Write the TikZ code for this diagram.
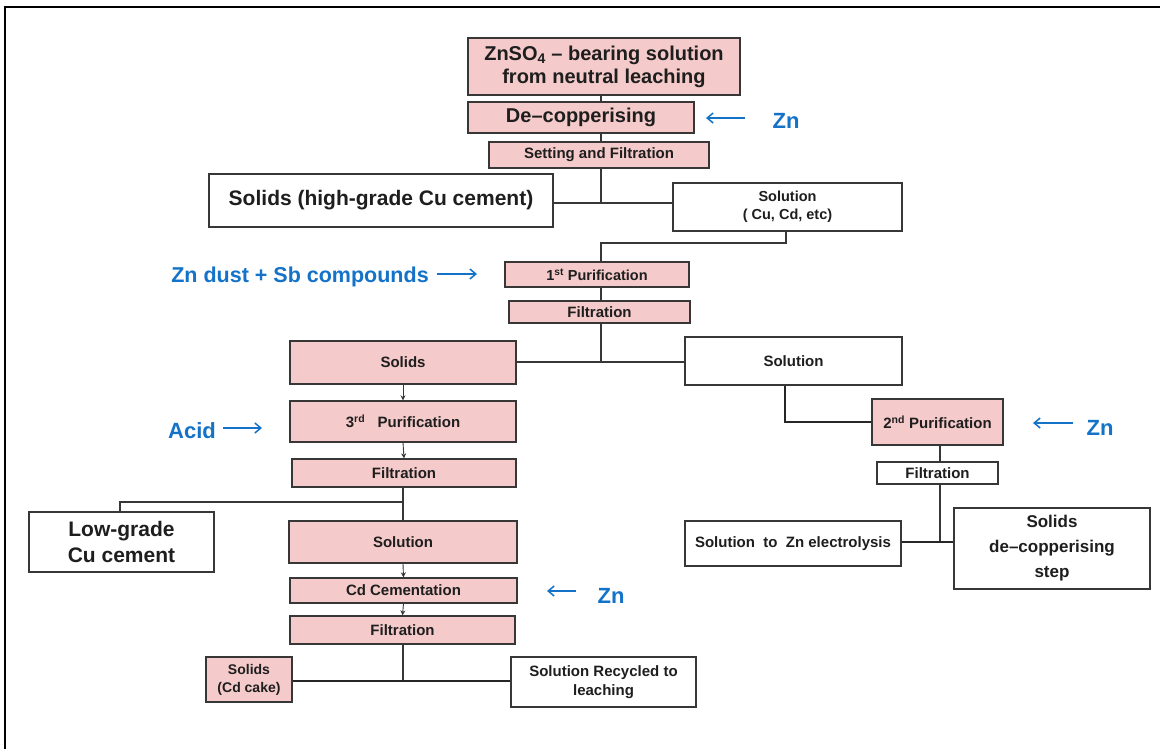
\documentclass[tikz,border=0pt]{standalone}
\usepackage{fontspec}
\setmainfont{Liberation Sans}
\usetikzlibrary{arrows.meta}
\definecolor{pinkf}{RGB}{245,202,202}
\definecolor{edgec}{RGB}{55,55,55}
\definecolor{txtc}{RGB}{30,30,30}
\definecolor{zblue}{RGB}{20,115,200}
\newcommand{\bsz}[2]{\bfseries\fontsize{#1}{#2}\selectfont}
\begin{document}
\begin{tikzpicture}[x=1pt,y=-1pt,
 base/.style={draw=edgec, line width=1.3pt, inner sep=0pt, align=center, text=txtc},
 pinkbox/.style={base, fill=pinkf},
 whitebox/.style={base, fill=white},
 conn/.style={draw=edgec, line width=1.2pt},
 heavy/.style={draw=black!85, line width=2.4pt},
 sarrow/.style={draw=edgec, line width=0.9pt, -{Stealth[length=5pt,width=5pt]}},
 barrow/.style={draw=zblue, line width=1.5pt, -{Straight Barb[length=6pt,width=10pt]}},
 lab/.style={text=zblue, font=\bsz{22}{26}, inner sep=0pt}]
\useasboundingbox (0,0) rectangle (1160,749);
\fill[white] (0,0) rectangle (1160,749);
\draw[line width=2.5pt] (5,749) -- (5,7) -- (1160,7);

% nodes
\node[pinkbox, minimum width=272, minimum height=57, font=\bsz{20}{23}] (zn) at (604,66.5) {ZnSO\textsubscript{4} -- bearing solution\\from neutral leaching};
\node[pinkbox, minimum width=226, minimum height=31, font=\bsz{20}{23}] (decu) at (581,117.5) {De--copperising};
\node[pinkbox, minimum width=220, minimum height=26, font=\bsz{15}{18}] (setf) at (599,155) {Setting and Filtration};
\node[whitebox, minimum width=344, minimum height=53, font=\bsz{21}{25}] (solhg) at (381,200.5) {Solids (high-grade Cu cement)};
\node[whitebox, minimum width=229, minimum height=48, font=\bsz{14.5}{18}] (solcu) at (787.5,207) {Solution\\( Cu, Cd, etc)};
\node[pinkbox, minimum width=184, minimum height=25, font=\bsz{14.5}{17}] (pur1) at (597,274.5) {1\textsuperscript{st} Purification};
\node[pinkbox, minimum width=181, minimum height=22, font=\bsz{15}{17}] (filt1) at (599.5,312) {Filtration};
\node[pinkbox, minimum width=226, minimum height=43, font=\bsz{15}{18}] (solidsL) at (403,362.5) {Solids};
\node[whitebox, minimum width=217, minimum height=48, font=\bsz{15}{18}] (solR) at (793.5,361) {Solution};
\node[pinkbox, minimum width=226, minimum height=41, font=\bsz{15}{18}] (pur3) at (403,421.5) {3\textsuperscript{rd}\ \ \ Purification};
\node[pinkbox, minimum width=224, minimum height=28, font=\bsz{15}{18}] (filt3) at (404,473) {Filtration};
\node[pinkbox, minimum width=131, minimum height=46, font=\bsz{15}{18}] (pur2) at (937.5,422) {2\textsuperscript{nd} Purification};
\node[whitebox, minimum width=121, minimum height=22, font=\bsz{15}{18}] (filt2) at (937.5,473) {Filtration};
\node[whitebox, minimum width=185, minimum height=60, font=\bsz{21}{26}] (lowgr) at (121.5,542) {Low-grade\\Cu cement};
\node[pinkbox, minimum width=228, minimum height=42, font=\bsz{15}{18}] (solB) at (403,542) {Solution};
\node[pinkbox, minimum width=227, minimum height=25, font=\bsz{15}{18}] (cdcem) at (403.5,590.5) {Cd Cementation};
\node[pinkbox, minimum width=225, minimum height=28, font=\bsz{15}{18}] (filtB) at (402.5,630) {Filtration};
\node[pinkbox, minimum width=86, minimum height=45, font=\bsz{14}{18}] (cdcake) at (249,679.5) {Solids\\(Cd cake)};
\node[whitebox, minimum width=185, minimum height=50, font=\bsz{15}{19}] (recyc) at (603.5,682) {Solution Recycled to\\leaching};
\node[whitebox, minimum width=216, minimum height=45, font=\bsz{15}{18}] (solZn) at (793,543.5) {Solution\ \ to\ \ Zn electrolysis};
\node[whitebox, minimum width=196, minimum height=81, font=\bsz{17}{25}] (solDe) at (1052,548.5) {Solids\\de--copperising\\step};

% blue labels
\node[lab] (zn1) at (786,121) {Zn};
\coordinate (zn1a) at (745,118);
\coordinate (zn1b) at (706,118);
\draw[barrow] (zn1a) -- (zn1b);
\node[lab, font=\bsz{21.5}{26}] (zdust) at (300,277) {Zn dust + Sb compounds};
\coordinate (zda) at (437,274);
\coordinate (zdb) at (477,274);
\draw[barrow] (zda) -- (zdb);
\node[lab] (acid) at (192,431) {Acid};
\coordinate (aca) at (223,428);
\coordinate (acb) at (262,428);
\draw[barrow] (aca) -- (acb);
\node[lab] (zn2) at (1100,428) {Zn};
\coordinate (zn2a) at (1073,423);
\coordinate (zn2b) at (1033,423);
\draw[barrow] (zn2a) -- (zn2b);
\node[lab] (zn3) at (611,596) {Zn};
\coordinate (zn3a) at (576,591);
\coordinate (zn3b) at (547,591);
\draw[barrow] (zn3a) -- (zn3b);

% connectors top
\coordinate (j1) at (601,203);
\coordinate (j2) at (601,243);
\coordinate (j3) at (601,362);
\draw[conn] (zn.south -| j1) -- (decu.north -| j1);
\draw[conn] (decu.south -| j1) -- (setf.north -| j1);
\draw[conn] (setf.south -| j1) -- (j1);
\draw[conn] (j1 -| solhg.east) -- (j1 -| solcu.west);
\draw[conn] ([xshift=-1.5pt]solcu.south) |- (j2) -- (j2 |- pur1.north);
\draw[conn] (pur1.south -| j2) -- (filt1.north -| j2);
\draw[conn] (filt1.south -| j3) -- (j3);
\draw[conn] (j3 -| solidsL.east) -- (j3 -| solR.west);

% right branch
\coordinate (j4) at (940,542);
\draw[heavy] ([xshift=-8.5pt]solR.south) |- (pur2.west);
\draw[conn] (pur2.south -| j4) -- (filt2.north -| j4);
\draw[conn] (filt2.south -| j4) -- (j4);
\draw[heavy] (j4 -| solZn.east) -- (j4 -| solDe.west);

% left branch
\coordinate (j5) at (403,502);
\coordinate (j6) at (120,502);
\coordinate (j7) at (403,681);
\draw[sarrow] (solidsL.south) -- (pur3.north);
\draw[sarrow] (pur3.south) -- (filt3.north);
\draw[conn] (filt3.south -| j5) -- (solB.north -| j5);
\draw[conn] (j5) -- (j6) -- (j6 |- lowgr.north);
\draw[sarrow] (solB.south) -- (cdcem.north);
\draw[sarrow] (cdcem.south) -- (filtB.north);
\draw[conn] (filtB.south -| j7) -- (j7);
\draw[heavy] (j7 -| cdcake.east) -- (j7 -| recyc.west);
\end{tikzpicture}
\end{document}
